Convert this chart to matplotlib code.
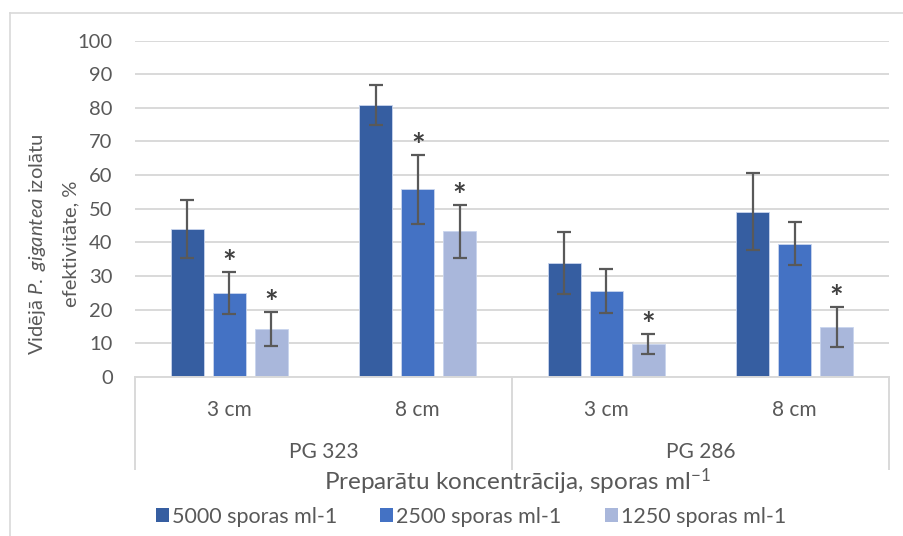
import matplotlib
matplotlib.use("Agg")
import matplotlib.pyplot as plt
import numpy as np
from matplotlib.lines import Line2D
from matplotlib.patches import Patch


# Vidējā efektivitāte (%) un standartnovirze katrai sporu koncentrācijai
GROUPS = ["PG 323", "PG 286"]
DISTANCES = ["3 cm", "8 cm", "3 cm", "8 cm"]
SERIES = ["5000 sporas ml-1", "2500 sporas ml-1", "1250 sporas ml-1"]

EFF_5000 = [44.0, 80.8, 33.9, 49.1]
ERR_5000 = [8.6, 6.0, 9.3, 11.4]
EFF_2500 = [25.0, 55.8, 25.5, 39.6]
ERR_2500 = [6.3, 10.3, 6.5, 6.4]
EFF_1250 = [14.3, 43.3, 9.8, 14.9]
ERR_1250 = [5.0, 7.9, 2.9, 5.9]

# statistiski būtiskās atšķirības (*)
SIG_5000 = [False, False, False, False]
SIG_2500 = [True, True, False, False]
SIG_1250 = [True, True, True, True]

COLORS = ["#365EA1", "#4472C4", "#A9B7DB"]
GRID = "#D9D9D9"
TEXT = "#595959"
FONT = "Lato"

plt.rcParams["font.family"] = [FONT, "DejaVu Sans"]
plt.rcParams["mathtext.fontset"] = "custom"
plt.rcParams["mathtext.rm"] = FONT
plt.rcParams["mathtext.it"] = FONT + ":italic"


def draw_bars(ax):
    x = np.arange(len(DISTANCES))
    width = 0.175
    step = 0.222
    values = [EFF_5000, EFF_2500, EFF_1250]
    errors = [ERR_5000, ERR_2500, ERR_1250]
    signif = [SIG_5000, SIG_2500, SIG_1250]

    for i, (vals, errs, sig) in enumerate(zip(values, errors, signif)):
        pos = x + (i - 1) * step
        ax.bar(pos, vals, width, color=COLORS[i], edgecolor="#C9D5EE",
               linewidth=0.6, zorder=2)
        ax.errorbar(pos, vals, yerr=errs, fmt="none", ecolor=TEXT,
                    elinewidth=1.6, capsize=5, capthick=1.6, zorder=3)
        for p, v, e, s in zip(pos, vals, errs, sig):
            if s:
                ax.annotate("*", (p, v + e), xytext=(0, -1.5),
                            textcoords="offset points", ha="center",
                            va="baseline", fontsize=23, fontweight="bold",
                            color="#404040")


def draw_category_axis(ax):
    trans = ax.get_xaxis_transform()
    for i, label in enumerate(DISTANCES):
        ax.text(i, -0.098, label, transform=trans, ha="center", va="center",
                fontsize=15, color=TEXT)
    for g, name in enumerate(GROUPS):
        ax.text(2 * g + 0.5, -0.223, name, transform=trans, ha="center",
                va="center", fontsize=15, color=TEXT)
    for xb in [-0.5, 1.5, 3.5]:
        ax.add_line(Line2D([xb, xb], [0, -0.273], transform=trans,
                           color=GRID, linewidth=1.4, clip_on=False))


def main():
    fig = plt.figure(figsize=(9.04, 5.36), dpi=100)
    ax = fig.add_axes([0.1493, 0.2966, 0.8341, 0.6278])

    draw_bars(ax)

    ax.set_xlim(-0.5, 3.5)
    ax.set_ylim(0, 100)
    ax.set_yticks(np.arange(0, 101, 10))
    ax.yaxis.grid(True, color=GRID, linewidth=1.4, zorder=0)
    ax.set_axisbelow(True)
    ax.set_xticks([])
    for side in ["top", "right", "left"]:
        ax.spines[side].set_visible(False)
    ax.spines["bottom"].set_color(GRID)
    ax.spines["bottom"].set_linewidth(1.4)
    ax.tick_params(axis="y", length=0, pad=16, labelsize=14.5, labelcolor=TEXT)

    draw_category_axis(ax)

    # ass nosaukumi
    fig.text(0.042, 0.545, r"Vidējā $\mathit{P.\ gigantea}$ izolātu",
             rotation=90, ha="center", va="center", fontsize=14.5, color=TEXT)
    fig.text(0.078, 0.545, "efektivitāte, %", rotation=90, ha="center",
             va="center", fontsize=14.5, color=TEXT)
    fig.text(0.572, 0.1007, r"Preparātu koncentrācija, sporas ml$^{-1}$",
             ha="center", va="center", fontsize=17.5, color=TEXT)

    handles = [Patch(facecolor=c) for c in COLORS]
    leg = fig.legend(handles, SERIES, loc="center", ncol=3,
                     bbox_to_anchor=(0.521, 0.036), frameon=False,
                     fontsize=15.5, handlelength=0.6, handleheight=0.65,
                     handletextpad=0.15, columnspacing=2.0)
    for t in leg.get_texts():
        t.set_color(TEXT)

    # rāmis ap diagrammu
    fig.add_artist(Line2D([10 / 904, 1], [1 - 13 / 536, 1 - 13 / 536],
                          transform=fig.transFigure, color=GRID, linewidth=1.2))
    fig.add_artist(Line2D([10 / 904, 10 / 904], [0, 1 - 13 / 536],
                          transform=fig.transFigure, color=GRID, linewidth=1.2))

    fig.savefig("out.png", dpi=100, facecolor="white")


if __name__ == "__main__":
    main()
